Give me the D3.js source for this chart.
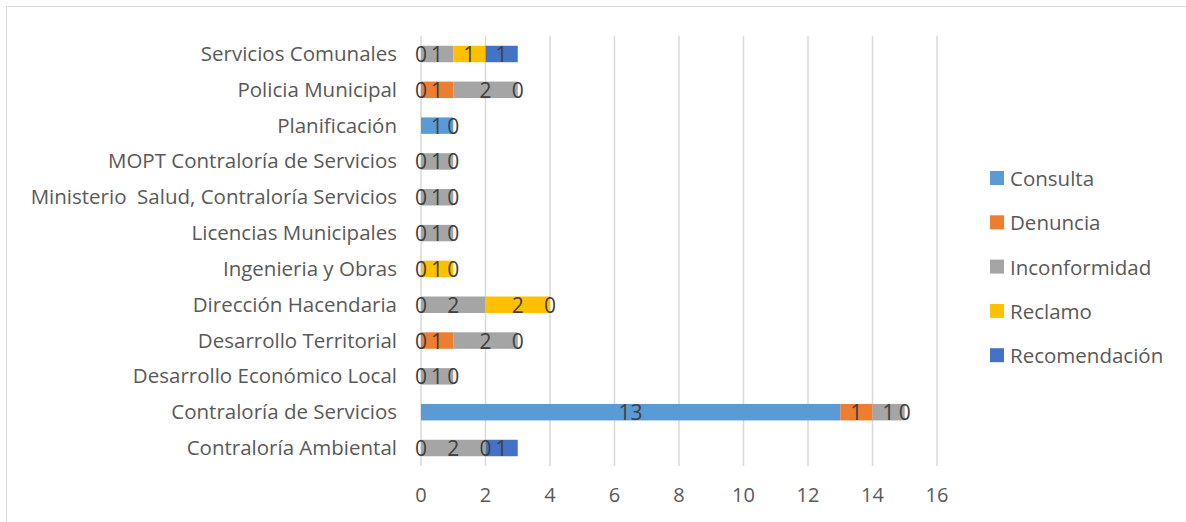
<!DOCTYPE html>
<html>
<head>
<meta charset="utf-8">
<script src="https://cdn.jsdelivr.net/npm/d3@7"></script>
<style>
  body { margin: 0; background: #fff; }
  svg { display: block; font-family: "Open Sans", "Liberation Sans", sans-serif; }
  text { white-space: pre; }
</style>
</head>
<body>
<div id="chart"></div>
<script>
// categories, top to bottom as drawn
const categories = [
  "Servicios Comunales",
  "Policia Municipal",
  "Planificación",
  "MOPT Contraloría de Servicios",
  "Ministerio  Salud, Contraloría Servicios",
  "Licencias Municipales",
  "Ingenieria y Obras",
  "Dirección Hacendaria",
  "Desarrollo Territorial",
  "Desarrollo Económico Local",
  "Contraloría de Servicios",
  "Contraloría Ambiental"
];

const seriesNames = ["Consulta", "Denuncia", "Inconformidad", "Reclamo", "Recomendación"];
const seriesColors = ["#5B9BD5", "#ED7D31", "#A5A5A5", "#FFC000", "#4472C4"];

// null = no value (no label shown)
const consulta      = [0, 0, 1, 0, 0, 0, 0, 0, 0, 0, 13, 0];
const denuncia      = [null, 1, null, null, null, null, null, null, 1, null, 1, null];
const inconformidad = [1, 2, 0, 1, 1, 1, null, 2, 2, 1, 1, 2];
const reclamo       = [1, 0, null, 0, 0, 0, 1, 2, 0, 0, 0, 0];
const recomendacion = [1, null, null, null, null, null, 0, 0, null, null, null, 1];

const seriesValues = [consulta, denuncia, inconformidad, reclamo, recomendacion];
const xTicks = [0, 2, 4, 6, 8, 10, 12, 14, 16];

const width = 1186, height = 522;

const svg = d3.select("#chart").append("svg")
  .attr("width", width)
  .attr("height", height);

// chart border
svg.append("rect")
  .attr("x", 6.5).attr("y", 6.5)
  .attr("width", width + 10).attr("height", height + 10)
  .attr("fill", "none")
  .attr("stroke", "#d9d9d9");

const x = d3.scaleLinear().domain([0, 16]).range([421, 937]);
const step = (448 - 54) / 11;
const y = d3.scaleBand().domain(categories)
  .range([54 - step / 2, 448 + step / 2])
  .paddingInner(0.54).paddingOuter(0.27);

// gridlines
svg.append("g")
  .selectAll("line")
  .data(xTicks)
  .join("line")
  .attr("x1", d => x(d)).attr("x2", d => x(d))
  .attr("y1", 36).attr("y2", 466)
  .attr("stroke", "#d9d9d9")
  .attr("stroke-width", 1.5);

// x axis labels
svg.append("g")
  .selectAll("text")
  .data(xTicks)
  .join("text")
  .attr("x", d => x(d))
  .attr("y", 502)
  .attr("text-anchor", "middle")
  .attr("fill", "#595959")
  .attr("font-size", 20)
  .text(d => d);

// category labels
svg.append("g")
  .selectAll("text")
  .data(categories)
  .join("text")
  .attr("x", 397)
  .attr("y", d => y(d) + y.bandwidth() / 2 + 7)
  .attr("text-anchor", "end")
  .attr("fill", "#595959")
  .attr("font-size", 20.5)
  .text(d => d);

// stacked segments
const stacks = categories.map((c, i) => {
  let acc = 0;
  return seriesValues.map((vals, s) => {
    const v = vals[i];
    const start = acc;
    if (v != null) acc += v;
    return { cat: c, s: s, v: v, x0: start, x1: start + (v || 0) };
  });
});

const segs = stacks.flat();

svg.append("g")
  .selectAll("rect")
  .data(segs.filter(d => d.v))
  .join("rect")
  .attr("x", d => x(d.x0))
  .attr("y", d => y(d.cat))
  .attr("width", d => x(d.x1) - x(d.x0))
  .attr("height", y.bandwidth())
  .attr("fill", d => seriesColors[d.s]);

// data labels
svg.append("g")
  .selectAll("text")
  .data(segs.filter(d => d.v != null))
  .join("text")
  .attr("x", d => x((d.x0 + d.x1) / 2))
  .attr("y", d => y(d.cat) + y.bandwidth() / 2 + 8)
  .attr("text-anchor", "middle")
  .attr("fill", "#404040")
  .attr("font-size", 21)
  .text(d => d.v);

// legend
const legend = svg.append("g")
  .selectAll("g")
  .data(seriesNames)
  .join("g")
  .attr("transform", (d, i) => `translate(990, ${179 + i * 44.3})`);

legend.append("rect")
  .attr("x", 0).attr("y", -8)
  .attr("width", 14).attr("height", 14)
  .attr("fill", (d, i) => seriesColors[i]);

legend.append("text")
  .attr("x", 20)
  .attr("y", 7)
  .attr("fill", "#595959")
  .attr("font-size", 20.5)
  .text(d => d);
</script>
</body>
</html>
